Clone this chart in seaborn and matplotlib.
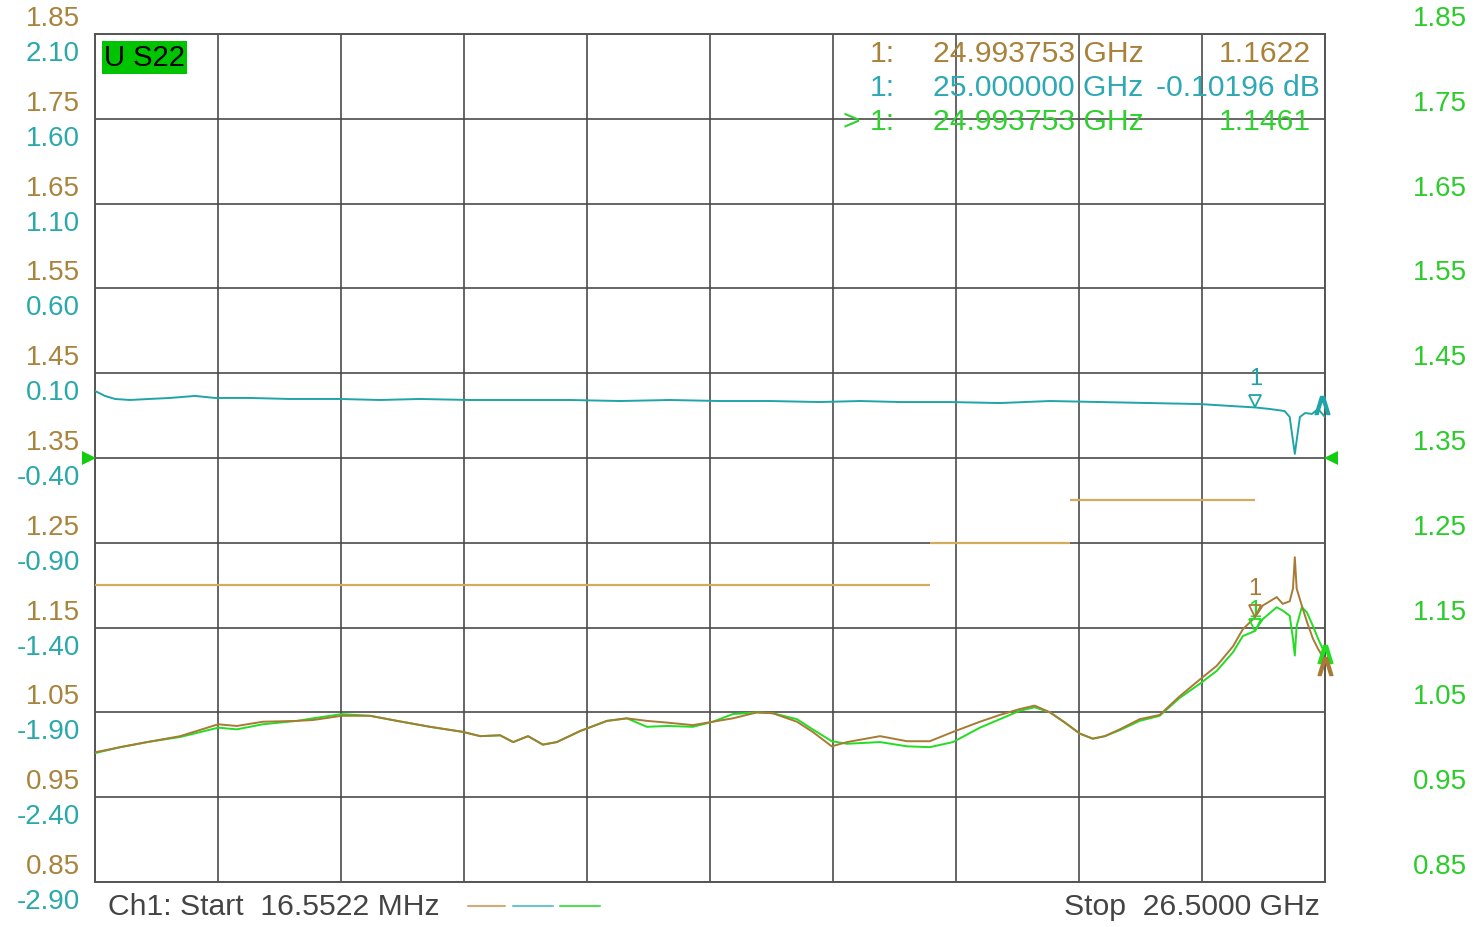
import numpy as np
import matplotlib
matplotlib.use("Agg")
import matplotlib.pyplot as plt
import seaborn as sns
from matplotlib.transforms import offset_copy
from matplotlib.lines import Line2D

# sweep
f_start = 0.0165522   # GHz
f_stop = 26.5

# scales (left brown = VSWR, left teal = dB, right green = VSWR)
vswr_ticks = [0.85, 0.95, 1.05, 1.15, 1.25, 1.35, 1.45, 1.55, 1.65, 1.75, 1.85]
db_ticks = [-2.90, -2.40, -1.90, -1.40, -0.90, -0.40, 0.10, 0.60, 1.10, 1.60, 2.10]
ref_level = 1.35

# brown + green traces (VSWR)
freq_vswr = [0.02, 0.56, 1.14, 1.85, 2.67, 3.07, 3.63, 4.37, 4.71, 5.33,
             5.94, 6.52, 7.23, 7.94, 8.31, 8.74, 9.02, 9.34, 9.66, 9.96,
             10.46, 11.04, 11.47, 11.90, 12.33, 12.89, 13.32, 13.75, 14.27, 14.61,
             15.13, 15.47, 15.88, 16.21, 16.92, 17.50, 17.99, 18.49, 19.07, 19.50,
             19.93, 20.25, 20.58, 20.90, 21.22, 21.50, 21.76, 22.08, 22.51, 22.94,
             23.37, 23.81, 24.17, 24.52, 24.73, 24.99, 25.16, 25.46, 25.59, 25.74,
             25.81, 25.85, 25.89, 26.00, 26.11, 26.24, 26.35, 26.50]
vswr_brown = [1.003, 1.009, 1.015, 1.022, 1.036, 1.034, 1.039, 1.040, 1.041, 1.046,
              1.046, 1.040, 1.033, 1.027, 1.022, 1.023, 1.015, 1.022, 1.012, 1.015,
              1.028, 1.040, 1.043, 1.040, 1.038, 1.035, 1.039, 1.043, 1.050, 1.049,
              1.039, 1.027, 1.010, 1.015, 1.022, 1.016, 1.016, 1.027, 1.039, 1.047,
              1.054, 1.058, 1.050, 1.038, 1.025, 1.019, 1.022, 1.030, 1.042, 1.047,
              1.069, 1.089, 1.105, 1.128, 1.148, 1.162, 1.176, 1.186, 1.178, 1.181,
              1.196, 1.233, 1.196, 1.176, 1.157, 1.137, 1.125, 1.111]
vswr_green = [1.002, 1.009, 1.015, 1.021, 1.032, 1.030, 1.036, 1.040, 1.043, 1.048,
              1.046, 1.040, 1.033, 1.027, 1.022, 1.023, 1.015, 1.022, 1.012, 1.015,
              1.028, 1.040, 1.043, 1.033, 1.034, 1.033, 1.039, 1.048, 1.050, 1.049,
              1.042, 1.030, 1.016, 1.013, 1.015, 1.010, 1.009, 1.015, 1.032, 1.042,
              1.052, 1.056, 1.050, 1.038, 1.025, 1.019, 1.022, 1.029, 1.040, 1.046,
              1.067, 1.084, 1.099, 1.121, 1.140, 1.146, 1.160, 1.174, 1.170, 1.164,
              1.137, 1.117, 1.152, 1.174, 1.168, 1.152, 1.137, 1.119]

# teal trace (dB)
freq_db = [0.02, 0.23, 0.45, 0.77, 1.18, 1.63, 2.17, 2.60, 3.35, 4.21,
           5.29, 6.15, 7.01, 8.09, 9.17, 10.24, 11.32, 12.40, 13.47, 14.55,
           15.62, 16.49, 17.35, 18.42, 19.50, 20.58, 21.65, 22.73, 23.81, 24.45,
           25.00, 25.31, 25.63, 25.74, 25.85, 25.96, 26.07, 26.22, 26.35, 26.50]
trace_db = [-0.005, -0.034, -0.052, -0.058, -0.052, -0.046, -0.034, -0.046, -0.046, -0.052,
            -0.052, -0.058, -0.052, -0.058, -0.058, -0.058, -0.064, -0.058, -0.064, -0.064,
            -0.070, -0.064, -0.070, -0.070, -0.076, -0.064, -0.070, -0.076, -0.082, -0.093,
            -0.102, -0.111, -0.123, -0.158, -0.376, -0.158, -0.135, -0.140, -0.111, -0.158]

# limit lines
limit_start = [f_start, 18.0, 21.0]
limit_stop = [18.0, 21.0, 25.0]
limit_value = [1.20, 1.25, 1.30]

# marker readout
mk_freq_vswr = 24.993753
mk_freq_db = 25.0
mk_brown = 1.1622
mk_teal = -0.10196
mk_green = 1.1461

BROWN = "#a8843c"
TEAL = "#2aa8aa"
GREEN = "#2ccc2c"
GRID = "#4a4a4a"

sns.set_theme(style="white")
plt.rcParams["font.family"] = ["Liberation Sans", "DejaVu Sans"]

W, H = 1479, 928
fig = plt.figure(figsize=(W / 100, H / 100), dpi=100)
ax = fig.add_axes([95 / W, 45 / H, 1230 / W, 848 / H])
ax_db = ax.twinx()

ax.set_xlim(f_start, f_stop)
ax.set_ylim(vswr_ticks[0], vswr_ticks[-1])
ax_db.set_ylim(db_ticks[0], db_ticks[-1])

ax.set_xticks(np.linspace(f_start, f_stop, 11))
ax.set_yticks(vswr_ticks)
ax.tick_params(length=0, labelleft=False, labelbottom=False)
ax.grid(True, color=GRID, lw=1.4, alpha=0.85)
for s in ax.spines.values():
    s.set_color("#555555")
    s.set_linewidth(1.4)
ax_db.set_yticks([])
for s in ax_db.spines.values():
    s.set_visible(False)

# limit lines
ax.hlines(limit_value, limit_start, limit_stop, color="#d4aa5c", lw=1.6, zorder=3)

# traces
sns.lineplot(x=freq_vswr, y=vswr_green, ax=ax, color="#22dd22", lw=1.4,
             estimator=None, sort=False, zorder=4)
sns.lineplot(x=freq_vswr, y=vswr_brown, ax=ax, color="#a87a35", lw=1.4,
             estimator=None, sort=False, zorder=5)
sns.lineplot(x=freq_db, y=trace_db, ax=ax_db, color="#1fa5a8", lw=1.4,
             estimator=None, sort=False, zorder=5)


def marker_flag(axis, f, v, color, lift):
    tri = offset_copy(axis.transData, fig=fig, x=0, y=6, units="dots")
    axis.plot([f], [v], marker="v", ms=9, mfc="none", mec=color, mew=1.3,
              transform=tri, clip_on=False, zorder=6)
    lab = offset_copy(axis.transData, fig=fig, x=0, y=lift, units="dots")
    axis.text(f, v, "1", transform=lab, ha="center", va="center",
              color=color, fontsize=17, zorder=6)


marker_flag(ax, mk_freq_vswr, mk_green, "#22dd22", 21)
marker_flag(ax, mk_freq_vswr, mk_brown, "#a87a35", 29)
marker_flag(ax_db, mk_freq_db, mk_teal, "#1fa5a8", 29)

# trace end chevrons
ax.plot([freq_vswr[-1]], [vswr_green[-1]], marker=r"$\wedge$", ms=13, color="#22dd22", clip_on=False, zorder=6)
ax.plot([freq_vswr[-1]], [vswr_brown[-1]], marker=r"$\wedge$", ms=13, color="#a87a35", clip_on=False, zorder=6,
        transform=offset_copy(ax.transData, fig=fig, x=0, y=-5, units="dots"))
ax_db.plot([freq_db[-1]], [trace_db[-1]], marker=r"$\wedge$", ms=13, color="#1fa5a8", clip_on=False, zorder=6,
           transform=offset_copy(ax_db.transData, fig=fig, x=-3, y=12, units="dots"))

# reference level triangles
ax.plot([-0.0049], [ref_level], marker=">", ms=10, color="#11cc11", mew=0,
        transform=ax.get_yaxis_transform(), clip_on=False, zorder=7)
ax.plot([1.0049], [ref_level], marker="<", ms=10, color="#11cc11", mew=0,
        transform=ax.get_yaxis_transform(), clip_on=False, zorder=7)

# scale labels
up = offset_copy(ax.get_yaxis_transform(), fig=fig, x=0, y=16, units="dots")
down = offset_copy(ax_db.get_yaxis_transform(), fig=fig, x=0, y=-19, units="dots")
for v in vswr_ticks:
    ax.text(-0.0122, v, f"{v:.2f}", transform=up, ha="right", va="center",
            color=BROWN, fontsize=20)
    ax.text(1.1154, v, f"{v:.2f}", transform=up, ha="right", va="center",
            color=GREEN, fontsize=20)
for v in db_ticks:
    ax_db.text(-0.0122, v, f"{v:.2f}", transform=down, ha="right", va="center",
               color=TEAL, fontsize=20)

# trace label
ax.text(0.0073, 0.9725, "U S22", transform=ax.transAxes, ha="left", va="center",
        fontsize=21, color="black", zorder=8,
        bbox=dict(boxstyle="square,pad=0.08", fc="#00c400", ec="none"))


def px_text(x, y, s, color, ha="left", size=21.7):
    fig.text(x / W, 1 - y / H, s, ha=ha, va="center", color=color, fontsize=size)


# marker readout
px_text(870, 54, "1:", "#a8823a")
px_text(933, 54, f"{mk_freq_vswr:.6f} GHz", "#a8823a")
px_text(1311, 54, f"{mk_brown:.4f}", "#a8823a", ha="right")
px_text(870, 88, "1:", "#2ea8b4")
px_text(933, 88, f"{mk_freq_db:.6f} GHz", "#2ea8b4")
px_text(1320, 88, f"{mk_teal:.5f} dB", "#2ea8b4", ha="right")
px_text(843, 122, ">", "#2fd02f")
px_text(870, 122, "1:", "#2fd02f")
px_text(933, 122, f"{mk_freq_vswr:.6f} GHz", "#2fd02f")
px_text(1311, 122, f"{mk_green:.4f}", "#2fd02f", ha="right")

# footer
px_text(108, 907, "Ch1: Start  16.5522 MHz", "#444444")
px_text(1320, 907, "Stop  26.5000 GHz", "#444444", ha="right")
for (x0, x1), c in zip([(468, 505), (513, 553), (560, 600)],
                       ["#d0ad78", "#6cc4cf", "#55dd55"]):
    fig.add_artist(Line2D([x0 / W, x1 / W], [1 - 907 / H, 1 - 907 / H],
                          transform=fig.transFigure, color=c, lw=1.5))

fig.savefig("out.png", dpi=100, facecolor="white")
